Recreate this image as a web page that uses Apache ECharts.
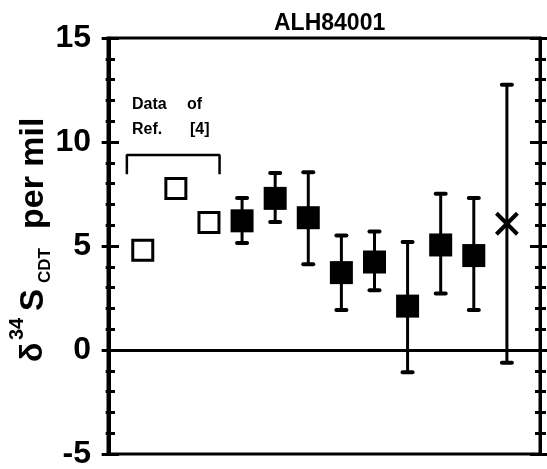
<!DOCTYPE html>
<html><head><meta charset="utf-8">
<script src="https://cdn.jsdelivr.net/npm/echarts@6/dist/echarts.min.js"></script>
<style>html,body{margin:0;padding:0;background:#fff}#c{width:547px;height:469px}</style>
</head><body><div id="c"></div>
<script>
// ---- data ----
const titleText = 'ALH84001';
const yMin = -5, yMax = 15, yStep = 5;
const refX = [1, 2, 3];
const refY = [4.79, 7.77, 6.13];
const sampleX = [4, 5, 6, 7, 8, 9, 10, 11];
const sampleY = [6.21, 7.29, 6.36, 3.72, 4.23, 2.11, 5.05, 4.54];
const sampleHi = [7.31, 8.51, 8.54, 5.51, 5.70, 5.19, 7.51, 7.31];
const sampleLo = [5.14, 6.15, 4.12, 1.92, 2.87, -1.07, 2.72, 1.92];
const crossX = [12];
const crossY = [6.07];
const crossHi = [12.75];
const crossLo = [-0.61];
const bracketX = [0.52, 3.32];
const bracketY = [8.45, 9.38];
const noteLine1 = ['Data', 'of'];
const noteLine2 = ['Ref.', '[4]'];

// ---- chart ----
const FF = '"Liberation Sans", Arial, Helvetica, sans-serif';
const chart = echarts.init(document.getElementById('c'), null, {renderer: 'canvas'});

const errData = sampleX.map((x, i) => [x, sampleLo[i], sampleHi[i]])
  .concat(crossX.map((x, i) => [x, crossLo[i], crossHi[i]]));

function yAx(extra) {
  return Object.assign({
    type: 'value', min: yMin, max: yMax, interval: yStep,
    splitLine: {show: false},
    axisLine: {show: false},
    axisLabel: {show: false}
  }, extra);
}
const tickStyle = {color: '#000', width: 3};

function txt(text, x, y, size, weight, align) {
  return {type: 'text', x: x, y: y, style: {
    text: text, fontSize: size, fontWeight: weight || 'bold', fontFamily: FF, fill: '#000',
    align: align || 'left', textAlign: align || 'left', verticalAlign: 'middle', textVerticalAlign: 'middle'
  }};
}

const option = {
  animation: false,
  backgroundColor: '#fff',
  title: {
    text: titleText, left: 269, top: 7,
    textStyle: {fontSize: 23, fontWeight: 'bold', fontFamily: FF, color: '#000'}
  },
  grid: {
    left: 108, top: 38, width: 432, height: 416,
    show: true, borderColor: '#000', borderWidth: 3, backgroundColor: 'transparent',
    containLabel: false, outerBoundsMode: 'none'
  },
  xAxis: {type: 'value', min: -0.05, max: 13, show: false},
  yAxis: [
    yAx({position: 'left',
      axisLine: {show: true, lineStyle: {color: '#000', width: 3}},
      axisTick: {show: true, inside: false, length: 8, lineStyle: tickStyle},
      minorTick: {show: true, splitNumber: 5, length: 4, lineStyle: tickStyle},
      axisLabel: {show: true, fontSize: 32, fontWeight: 'bold', fontFamily: FF, color: '#000', margin: 17}
    }),
    yAx({position: 'left',
      axisTick: {show: true, inside: true, length: 11, lineStyle: tickStyle},
      minorTick: {show: true, splitNumber: 5, length: 7, lineStyle: tickStyle}
    }),
    yAx({position: 'right',
      axisLine: {show: true, lineStyle: {color: '#000', width: 3}},
      axisTick: {show: true, inside: true, length: 10, lineStyle: tickStyle},
      minorTick: {show: true, splitNumber: 5, length: 5, lineStyle: tickStyle}
    }),
    yAx({position: 'right',
      axisTick: {show: true, inside: false, length: 8, lineStyle: tickStyle},
      minorTick: {show: true, splitNumber: 5, length: 6, lineStyle: tickStyle}
    })
  ],
  series: [
    {
      type: 'line', silent: true, symbol: 'none',
      data: [[bracketX[0], bracketY[0]], [bracketX[0], bracketY[1]], [bracketX[1], bracketY[1]], [bracketX[1], bracketY[0]]],
      lineStyle: {color: '#000', width: 2.5},
      markLine: {
        silent: true, symbol: 'none', label: {show: false},
        lineStyle: {color: '#000', width: 3, type: 'solid'},
        data: [{yAxis: 0}]
      }
    },
    {
      type: 'custom', silent: true, z: 3,
      data: errData,
      renderItem: function (params, api) {
        const x = api.value(0), lo = api.value(1), hi = api.value(2);
        const p1 = api.coord([x, lo]), p2 = api.coord([x, hi]);
        const cw = 5;
        const st = {stroke: '#000', lineWidth: 3};
        const cs = {stroke: '#000', lineWidth: 4, lineCap: 'round'};
        return {type: 'group', children: [
          {type: 'line', shape: {x1: p1[0], y1: p1[1], x2: p2[0], y2: p2[1]}, style: st},
          {type: 'line', shape: {x1: p1[0] - cw, y1: p1[1], x2: p1[0] + cw, y2: p1[1]}, style: cs},
          {type: 'line', shape: {x1: p2[0] - cw, y1: p2[1], x2: p2[0] + cw, y2: p2[1]}, style: cs}
        ]};
      }
    },
    {
      type: 'scatter', silent: true, z: 4,
      data: refX.map((x, i) => [x, refY[i]]),
      symbol: 'rect', symbolSize: 20,
      itemStyle: {color: '#fff', borderColor: '#000', borderWidth: 3, opacity: 1}
    },
    {
      type: 'scatter', silent: true, z: 4,
      data: sampleX.map((x, i) => [x, sampleY[i]]),
      symbol: 'rect', symbolSize: 23,
      itemStyle: {color: '#000', opacity: 1}
    },
    {
      type: 'custom', silent: true, z: 5,
      data: crossX.map((x, i) => [x, crossY[i]]),
      renderItem: function (params, api) {
        const p = api.coord([api.value(0), api.value(1)]);
        const h = 10.5;
        const st = {stroke: '#000', lineWidth: 4};
        return {type: 'group', children: [
          {type: 'line', shape: {x1: p[0] - h, y1: p[1] - h, x2: p[0] + h, y2: p[1] + h}, style: st},
          {type: 'line', shape: {x1: p[0] - h, y1: p[1] + h, x2: p[0] + h, y2: p[1] - h}, style: st}
        ]};
      }
    }
  ],
  graphic: [
    txt(noteLine1[0], 132, 105, 16),
    txt(noteLine1[1], 187, 105, 16),
    txt(noteLine2[0], 132, 130, 16),
    txt(noteLine2[1], 190, 130, 16),
    {type: 'group', x: 45, y: 362, rotation: Math.PI / 2, children: [
      txt('δ', 0, -12, 32, 'bold'),
      txt('34', 22, -28, 20),
      txt('S', 51, -11, 33),
      txt('CDT', 79, 0, 17),
      txt('per mil', 133, -11, 34)
    ]}
  ]
};
chart.setOption(option);
</script>
</body></html>
